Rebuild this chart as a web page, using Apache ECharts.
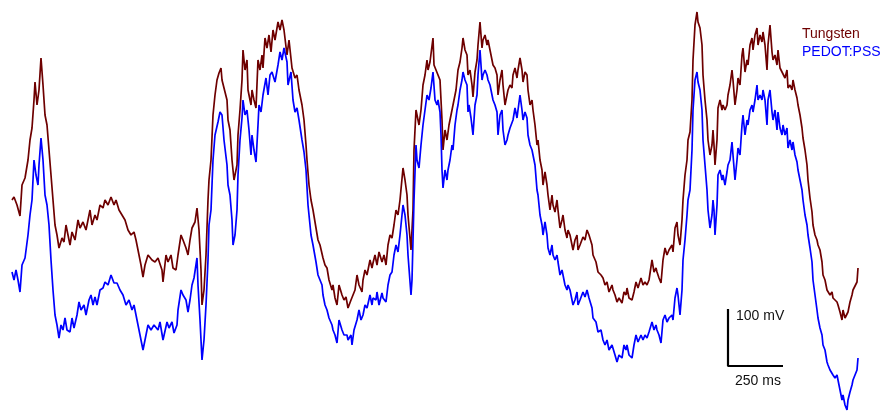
<!DOCTYPE html>
<html><head><meta charset="utf-8">
<script src="https://cdn.jsdelivr.net/npm/echarts@6/dist/echarts.min.js"></script>
<style>html,body{margin:0;padding:0;background:#fff}#c{width:886px;height:412px}</style>
</head><body><div id="c"></div>
<script>
// Values are in figure units: the scale bar gives 57 units = 100 mV and 55 units = 250 ms.
// Voltage axis runs downward (larger number = lower on the page).
const seriesNames = ['Tungsten', 'PEDOT:PSS'];
const seriesColors = ['#6e0000', '#0000ff'];

const tungsten = [[12,200],[14,197],[17,205],[20,216],[22,185],[25,178],[28,160],[30,140],[32,128],[34,100],[35,82],[37,105],[39,90],[41,58],[43,85],[45,115],[47,125],[49,150],[51,175],[53,200],[55,225],[57,235],[59,248],[62,238],[64,242],[66,225],[68,235],[70,245],[72,232],[75,240],[78,220],[80,228],[83,222],[86,230],[88,220],[90,210],[92,225],[95,215],[97,220],[100,205],[103,208],[105,200],[108,205],[111,197],[114,205],[116,200],[119,210],[122,215],[125,220],[128,230],[131,235],[134,232],[136,240],[138,250],[141,265],[143,277],[145,265],[148,255],[152,260],[155,262],[158,258],[162,270],[163,282],[166,255],[168,262],[171,255],[173,268],[176,270],[178,255],[181,235],[183,240],[186,248],[188,255],[190,240],[192,228],[195,222],[197,208],[199,230],[201,270],[202,305],[204,290],[206,255],[208,200],[209,180],[211,160],[213,115],[215,95],[217,80],[219,73],[221,68],[222,80],[224,88],[227,100],[228,120],[230,130],[232,160],[234,180],[237,165],[238,135],[240,110],[242,80],[243,50],[245,70],[247,60],[248,90],[251,105],[252,90],[254,100],[256,108],[258,60],[260,70],[262,55],[263,68],[265,38],[267,48],[269,35],[271,52],[273,30],[275,40],[278,22],[280,30],[282,20],[284,30],[287,55],[289,40],[292,68],[295,78],[297,75],[299,90],[302,105],[304,120],[306,145],[307,160],[309,185],[311,200],[313,210],[314,212],[316,228],[318,240],[320,245],[322,245],[323,258],[325,265],[327,268],[329,280],[332,290],[333,285],[335,298],[337,305],[339,285],[342,295],[344,300],[346,297],[348,308],[351,300],[353,302],[355,290],[357,275],[359,285],[362,292],[363,280],[365,270],[367,275],[370,260],[372,268],[373,263],[375,255],[377,265],[379,252],[382,262],[384,255],[386,265],[388,245],[390,235],[392,238],[394,225],[396,210],[398,215],[400,200],[403,168],[405,180],[407,195],[408,215],[411,250],[413,210],[414,150],[416,110],[417,115],[419,125],[421,110],[423,85],[425,75],[427,60],[428,70],[430,62],[433,38],[434,65],[436,70],[438,68],[440,80],[442,120],[443,150],[445,130],[447,140],[449,125],[451,115],[453,105],[456,90],[458,70],[460,62],[462,48],[463,38],[465,50],[467,55],[468,75],[470,70],[472,85],[473,97],[475,72],[477,60],[478,45],[480,22],[482,48],[483,40],[485,35],[487,45],[488,40],[490,50],[492,60],[493,65],[495,68],[497,75],[498,95],[500,80],[502,70],[503,85],[505,105],[507,95],[508,90],[510,85],[512,88],[513,75],[515,68],[517,78],[518,70],[520,58],[522,70],[523,82],[525,72],[527,75],[528,90],[530,105],[532,100],[533,110],[535,125],[537,145],[538,140],[540,160],[542,170],[543,185],[545,172],[547,185],[548,195],[550,210],[552,195],[553,205],[555,212],[557,200],[558,210],[560,228],[562,220],[563,215],[565,230],[567,238],[568,230],[570,235],[572,235],[573,250],[575,240],[577,235],[578,250],[580,245],[583,237],[585,240],[587,230],[589,235],[592,245],[593,255],[596,262],[598,272],[601,275],[603,278],[605,285],[607,282],[609,292],[612,285],[613,290],[615,295],[617,302],[619,298],[622,303],[624,292],[626,295],[627,288],[629,298],[632,300],[634,292],[636,282],[638,288],[641,278],[643,285],[645,282],[647,285],[649,280],[652,260],[654,272],[656,268],[657,272],[659,278],[661,283],[663,260],[665,248],[667,255],[669,250],[672,245],[673,252],[675,228],[677,222],[678,235],[680,245],[682,220],[683,200],[685,175],[687,160],[688,140],[690,132],[692,100],[693,60],[695,25],[697,12],[698,22],[700,28],[702,45],[703,75],[705,100],[707,120],[708,140],[710,155],[712,145],[713,130],[714,145],[715,165],[717,140],[718,108],[720,100],[722,110],[723,105],[725,110],[727,105],[728,95],[730,85],[732,70],[733,80],[735,105],[737,90],[738,78],[740,85],[742,55],[743,48],[745,72],[747,60],[748,65],[750,45],[752,38],[753,50],[755,35],[757,28],[758,45],[760,35],[762,42],[763,32],[765,45],[767,70],[768,45],[770,25],[772,52],[773,60],[775,55],[777,65],[778,50],[780,68],[782,72],[783,70],[785,78],[787,70],[788,88],[790,85],[792,90],[793,80],[795,90],[797,98],[798,105],[800,115],[802,128],[803,138],[805,150],[807,165],[808,180],[810,198],[812,212],[813,225],[815,235],[817,240],[818,245],[820,250],[822,262],[823,275],[825,280],[827,290],[828,288],[830,295],[832,292],[833,298],[835,300],[837,302],[838,305],[840,312],[842,320],[843,310],[845,318],[847,320],[848,312],[850,302],[852,295],[853,290],[855,292],[857,282],[858,268]];

const pedot = [[12,272],[14,280],[16,270],[18,280],[20,292],[22,265],[25,258],[28,235],[30,215],[32,200],[34,160],[36,175],[38,185],[39,165],[41,138],[43,160],[45,195],[47,205],[49,225],[51,260],[53,290],[55,315],[57,325],[59,338],[61,325],[63,330],[65,318],[67,330],[70,332],[72,318],[74,328],[77,315],[79,302],[81,310],[84,305],[86,315],[89,300],[91,295],[93,305],[95,297],[97,305],[100,290],[103,288],[105,282],[108,285],[111,275],[114,283],[117,283],[120,290],[123,295],[126,305],[129,300],[132,310],[134,305],[137,320],[139,330],[141,340],[143,350],[145,340],[148,325],[151,330],[154,325],[158,330],[160,322],[163,340],[167,322],[169,328],[172,322],[174,333],[177,325],[178,310],[181,290],[183,295],[186,300],[188,312],[190,300],[192,285],[194,278],[197,258],[198,285],[200,320],[202,360],[204,340],[206,305],[208,260],[209,225],[211,210],[213,160],[215,135],[218,122],[220,112],[222,115],[224,140],[227,165],[228,185],[230,195],[232,220],[233,245],[235,235],[237,210],[238,175],[240,140],[242,118],[243,100],[245,115],[247,110],[249,130],[251,155],[252,135],[254,150],[256,162],[258,125],[259,105],[261,112],[263,95],[266,78],[268,95],[270,75],[272,72],[275,82],[278,65],[280,52],[282,60],[284,48],[287,62],[288,85],[291,72],[293,100],[295,112],[297,108],[299,120],[302,140],[304,152],[306,170],[308,205],[311,235],[313,245],[314,243],[316,262],[318,275],[320,280],[322,285],[323,295],[325,305],[327,310],[329,318],[332,325],[333,330],[335,335],[337,343],[339,320],[342,330],[344,335],[347,335],[348,340],[351,335],[352,345],[354,330],[357,320],[359,310],[361,320],[363,315],[365,305],[367,308],[370,295],[372,305],[373,298],[376,300],[377,292],[379,305],[382,293],[383,298],[386,302],[388,285],[390,275],[392,272],[394,255],[396,245],[398,252],[400,235],[403,205],[405,215],[407,235],[408,255],[411,295],[412,280],[414,200],[416,145],[417,160],[419,168],[421,145],[423,125],[425,110],[427,95],[429,100],[431,88],[433,72],[435,100],[437,105],[438,100],[440,112],[441,135],[442,170],[443,188],[445,170],[447,180],[448,170],[450,160],[452,145],[453,150],[455,125],[457,110],[458,105],[460,90],[462,80],[463,72],[465,80],[467,85],[468,112],[469,105],[471,118],[473,135],[475,105],[477,95],[478,75],[480,50],[482,80],[483,75],[485,70],[487,75],[488,80],[490,85],[492,95],[493,100],[495,105],[497,112],[498,135],[500,115],[502,110],[503,130],[505,145],[507,140],[508,135],[510,128],[512,130],[513,120],[515,108],[517,118],[518,110],[520,95],[522,110],[523,120],[525,112],[527,118],[528,135],[530,145],[532,150],[533,155],[535,165],[537,190],[538,195],[540,215],[542,225],[543,235],[545,222],[547,235],[548,248],[550,255],[552,245],[553,255],[555,260],[557,255],[558,262],[560,275],[562,270],[563,272],[565,285],[567,290],[568,285],[570,290],[572,292],[573,305],[575,300],[577,292],[578,305],[580,300],[583,292],[585,297],[587,290],[589,298],[592,308],[593,318],[596,322],[598,332],[601,330],[603,340],[605,345],[607,340],[609,350],[612,345],[613,345],[615,355],[617,362],[619,355],[622,358],[624,345],[626,350],[627,345],[629,355],[632,358],[634,345],[636,335],[638,342],[641,335],[643,340],[645,335],[647,338],[649,332],[652,322],[654,330],[656,325],[657,330],[659,335],[661,343],[663,320],[665,315],[667,322],[669,318],[672,315],[673,320],[675,298],[677,288],[678,295],[680,315],[682,290],[683,260],[685,240],[687,215],[688,200],[690,190],[692,150],[693,110],[695,80],[697,72],[698,82],[700,90],[702,110],[703,140],[705,165],[707,190],[708,210],[710,228],[712,215],[713,200],[714,210],[715,235],[717,205],[718,175],[720,170],[722,180],[723,175],[725,185],[727,172],[728,165],[730,160],[732,142],[733,155],[735,180],[737,160],[738,148],[740,155],[742,125],[743,115],[745,135],[747,120],[748,125],[750,110],[752,105],[753,112],[755,100],[757,85],[758,100],[760,95],[762,100],[763,90],[765,100],[767,125],[768,100],[770,90],[772,112],[773,120],[775,110],[777,130],[778,112],[780,128],[782,135],[783,125],[785,135],[787,128],[788,148],[790,140],[792,150],[793,142],[795,155],[797,162],[798,170],[800,180],[802,190],[803,200],[805,215],[807,225],[808,235],[810,248],[812,262],[813,280],[815,295],[817,310],[818,318],[820,328],[822,335],[823,345],[825,350],[827,362],[828,365],[830,370],[832,368],[833,375],[835,378],[837,375],[838,380],[840,390],[842,400],[843,395],[845,405],[847,410],[848,400],[850,392],[852,385],[853,380],[855,378],[857,370],[858,358]];

// Scale bar: corner position, and lengths (57 units = 100 mV, 55 units = 250 ms)
const scaleBarCorner = [728, 366];
const scaleBarVLen = 57;
const scaleBarHLen = 55;
const scaleBarLabels = ['100 mV', '250 ms'];

const FONT = '"Liberation Sans", Arial, sans-serif';
const chart = echarts.init(document.getElementById('c'), null, {renderer: 'canvas'});

const scaleBarData = [
  [scaleBarCorner[0], scaleBarCorner[1] - scaleBarVLen],
  [scaleBarCorner[0], scaleBarCorner[1]],
  [scaleBarCorner[0] + scaleBarHLen, scaleBarCorner[1]]
];

chart.setOption({
  animation: false,
  backgroundColor: '#ffffff',
  grid: {left: 0, right: 0, top: 0, bottom: 0},
  xAxis: {type: 'value', min: 0, max: 886, show: false},
  yAxis: {type: 'value', min: 0, max: 412, inverse: true, show: false},
  legend: {
    orient: 'vertical', left: 797, top: 27, padding: 0,
    itemWidth: 0, itemHeight: 0, itemGap: 3,
    selectedMode: false,
    textStyle: {fontFamily: FONT, fontSize: 14, lineHeight: 15},
    data: [
      {name: seriesNames[0], icon: 'rect', textStyle: {color: seriesColors[0]}},
      {name: seriesNames[1], icon: 'rect', textStyle: {color: seriesColors[1]}}
    ]
  },
  series: [
    {name: seriesNames[0], type: 'line', data: tungsten, showSymbol: false, smooth: false,
     lineStyle: {color: seriesColors[0], width: 1.7}, itemStyle: {color: seriesColors[0]}, z: 2},
    {name: seriesNames[1], type: 'line', data: pedot, showSymbol: false, smooth: false,
     lineStyle: {color: seriesColors[1], width: 1.7}, itemStyle: {color: seriesColors[1]}, z: 3},
    {name: 'scalebar', type: 'line', data: scaleBarData, showSymbol: false, silent: true,
     lineStyle: {color: '#000000', width: 2.2}, z: 4}
  ]
});

const pV = chart.convertToPixel({gridIndex: 0}, scaleBarData[0]);
const pC = chart.convertToPixel({gridIndex: 0}, scaleBarData[1]);
chart.setOption({
  graphic: [
    {type: 'text', left: pV[0] + 8, top: pV[1] + 0,
     style: {text: scaleBarLabels[0], fill: '#111', font: '14px ' + FONT}},
    {type: 'text', left: pC[0] + 7, top: pC[1] + 8,
     style: {text: scaleBarLabels[1], fill: '#111', font: '14px ' + FONT}}
  ]
});
</script>
</body></html>
